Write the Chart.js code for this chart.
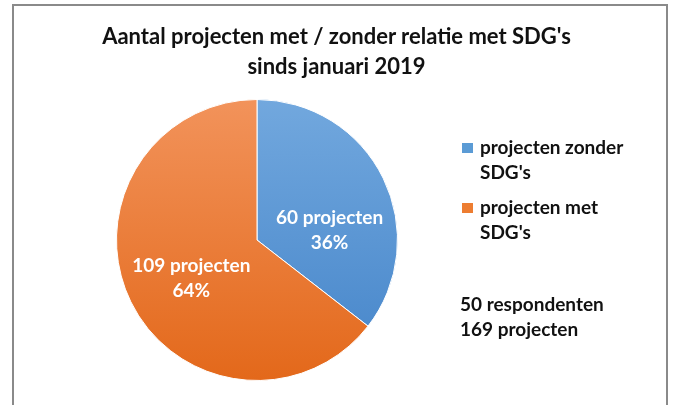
<!DOCTYPE html>
<html>
<head>
<meta charset="utf-8">
<script src="https://cdn.jsdelivr.net/npm/chart.js@4/dist/chart.umd.min.js"></script>
<style>
    body { margin: 0; background: #fff; }
    #wrap { position: relative; width: 673px; height: 405px; overflow: hidden; background: #fff; }
    #frame { position: absolute; left: 12px; top: 4px; width: 656px; height: 440px; box-sizing: border-box; border: 2px solid #8a8a8a; }
    #title { position: absolute; left: 0; top: 21px; width: 673px; text-align: center; font: bold 22px Lato, sans-serif; line-height: 30px; color: #111; }
    #chart { position: absolute; left: 0; top: 0; }
</style>
</head>
<body>
<div id="wrap">
    <div id="frame"></div>
    <canvas id="chart" width="673" height="405"></canvas>
    <div id="title">Aantal projecten met / zonder relatie met SDG's<br>sinds januari 2019</div>
</div>
<script>
// data
let categories = [["projecten zonder", "SDG's"], ["projecten met", "SDG's"]];
let projects = [60, 109];
let noteLines = ["50 respondenten", "169 projecten"];

let baseColors = ['#5B9BD5', '#ED7D31'];
let gradStops = [['#72A8DE', '#4484C9'], ['#F2935B', '#E3681A']];

function sliceFill(context) {
    const area = context.chart.chartArea;
    if (!area) return baseColors[context.dataIndex];
    const stops = gradStops[context.dataIndex];
    const g = context.chart.ctx.createLinearGradient(0, area.top, 0, area.bottom);
    g.addColorStop(0, stops[0]);
    g.addColorStop(1, stops[1]);
    return g;
}

// slice labels "60 projecten / 36%"
const sliceLabels = {
    id: 'sliceLabels',
    afterDatasetsDraw(chart, args, opts) {
        const ctx = chart.ctx;
        const meta = chart.getDatasetMeta(0);
        const total = projects.reduce((a, b) => a + b, 0);
        ctx.save();
        ctx.font = 'bold 19px Lato, sans-serif';
        ctx.fillStyle = '#fff';
        ctx.textAlign = 'center';
        ctx.textBaseline = 'middle';
        meta.data.forEach((arc, i) => {
            const p = arc.getProps(['x', 'y', 'startAngle', 'endAngle', 'outerRadius'], true);
            const mid = (p.startAngle + p.endAngle) / 2;
            const r = p.outerRadius * 0.52;
            const nudge = opts.nudge[i] || [0, 0];
            const cx = p.x + Math.cos(mid) * r + nudge[0];
            const cy = p.y + Math.sin(mid) * r + nudge[1];
            const pct = Math.round(projects[i] / total * 100) + '%';
            ctx.fillText(projects[i] + ' projecten', cx, cy - 12.5);
            ctx.fillText(pct, cx, cy + 12.5);
        });
        ctx.restore();
    }
};

// legend on the right plus the note under it
const sideLegend = {
    id: 'sideLegend',
    afterDraw(chart, args, opts) {
        const ctx = chart.ctx;
        ctx.save();
        ctx.font = 'bold 19px Lato, sans-serif';
        ctx.textBaseline = 'middle';
        ctx.textAlign = 'left';
        let y = opts.top;
        chart.data.labels.forEach((lines, i) => {
            ctx.fillStyle = baseColors[i];
            ctx.fillRect(opts.left, y - 5, 11, 10);
            ctx.fillStyle = '#111';
            lines.forEach((line, j) => {
                ctx.fillText(line, opts.left + 18, y + j * 25);
            });
            y += opts.itemGap;
        });
        noteLines.forEach((line, j) => {
            ctx.fillText(line, opts.left - 2, opts.noteTop + j * 25);
        });
        ctx.restore();
    }
};

function drawPie() {
    const ctx = document.getElementById('chart').getContext('2d');
    const data = {
        labels: categories,
        datasets: [{
            data: projects,
            backgroundColor: sliceFill,
            borderColor: '#fff',
            borderWidth: 1,
        }]
    };
    let myPieChart = new Chart(ctx, {
        type: 'pie',
        data: data,
        plugins: [sliceLabels, sideLegend],
        options: {
            responsive: false,
            animation: false,
            devicePixelRatio: 1,
            layout: {
                padding: { left: 116, right: 275, top: 98, bottom: 23 },
            },
            plugins: {
                legend: { display: false },
                tooltip: { enabled: false },
                title: { display: false },
                sliceLabels: { nudge: [[7, 23], [0, 6]] },
                sideLegend: { left: 462, top: 148, itemGap: 60, noteTop: 305 },
            },
        },
    });
}

drawPie();
</script>
</body>
</html>
